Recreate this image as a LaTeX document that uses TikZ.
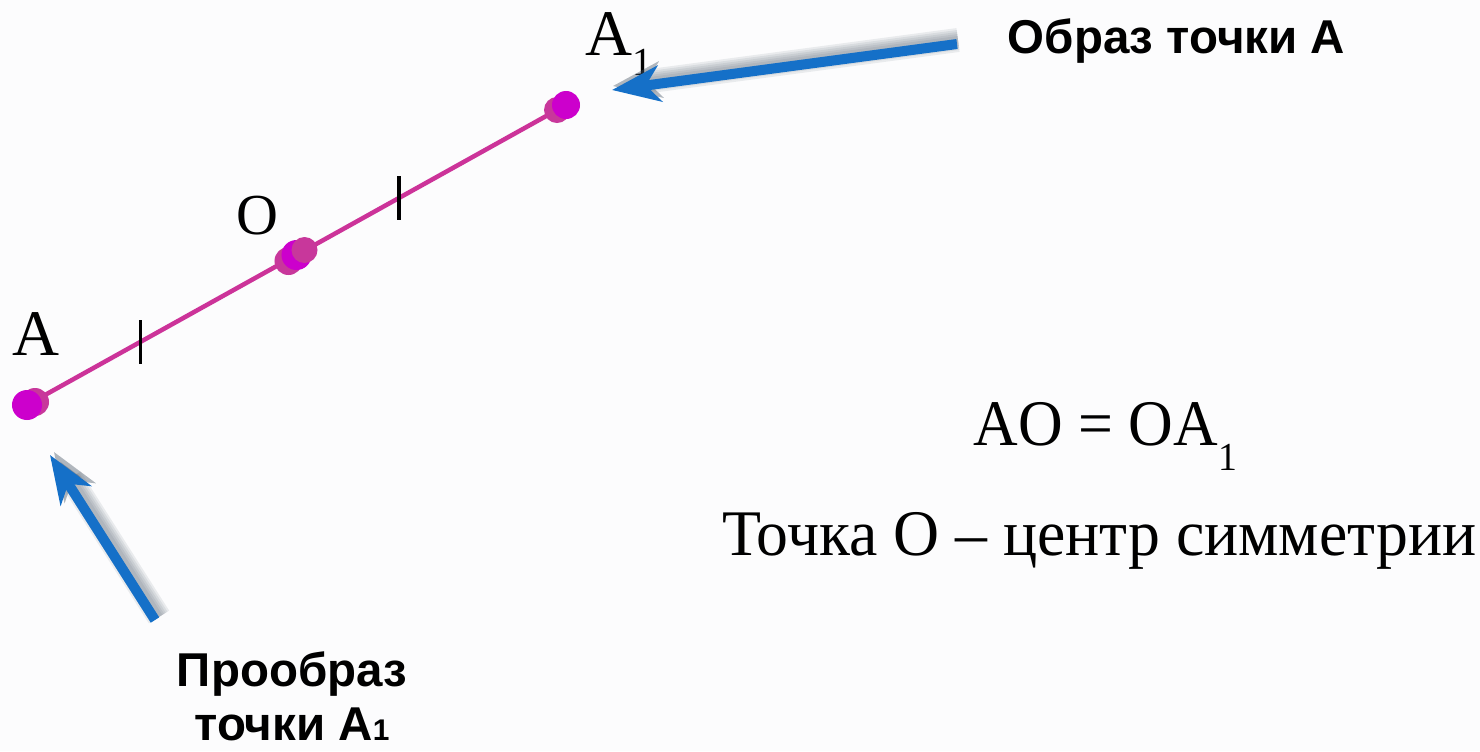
\documentclass[tikz,border=0pt]{standalone}
\usepackage{fontspec}
\setmainfont{Liberation Serif}
\newfontfamily\calloutfont{Liberation Sans}
\usetikzlibrary{arrows.meta, calc}
\definecolor{symmagenta}{HTML}{CC00CC}
\definecolor{sympink}{HTML}{C8379B}
\definecolor{symline}{HTML}{CC3399}
\definecolor{symblue}{HTML}{1570C8}
\definecolor{symshade}{HTML}{4A5868}
\definecolor{sympaper}{HTML}{FCFCFD}

\begin{document}
\begin{tikzpicture}[
    x=0.01cm,
    y=-0.01cm,
    segment/.style={draw=symline, line width=0.45mm},
    tickmark/.style={draw=black, line width=0.32mm},
    dotmain/.style={fill=symmagenta},
    dotback/.style={fill=sympink},
    pointlabel/.style={inner sep=0pt, font=\fontsize{18.5}{22}\selectfont},
    callout/.style={inner sep=0pt, font=\calloutfont\bfseries\fontsize{13.5}{15.1}\selectfont},
    pointer/.style={draw=symblue, line width=1mm, -{Stealth[length=4.8mm, width=3.6mm, inset=1.4mm]}},
    pointershade/.style={pointer, draw=symshade, opacity=0.1, line width=#1}
  ]
  \fill[sympaper] (0,0) rectangle (1480,751);
  \useasboundingbox (0,0) rectangle (1480,751);

  % segment AA1 with its centre O
  \coordinate (A) at (27,405);
  \coordinate (A1) at (566,105);
  \coordinate (O) at ($(A)!0.5!(A1)$);
  \draw[segment] (A) -- (A1);
  \foreach \t in {0.21,0.69}
    \draw[tickmark] ($(A)!\t!(A1)$) ++(0,-22) -- ++(0,44);

  \fill[dotback] ($(A)+(8,-3)$) circle (1.4mm);
  \fill[dotmain] (A) circle (1.5mm);
  \fill[dotback] ($(O)+(-8,6)$) circle (1.4mm);
  \fill[dotmain] (O) circle (1.5mm);
  \fill[dotback] ($(O)+(8,-5)$) circle (1.3mm);
  \fill[dotback] ($(A1)+(-9,5)$) circle (1.3mm);
  \fill[dotmain] (A1) circle (1.4mm);

  \node[pointlabel, anchor=base] (labA) at (36,355) {A};
  \node[pointlabel, anchor=base, font=\fontsize{16.5}{20}\selectfont] (labO) at (257,234) {O};
  \node[pointlabel, anchor=base west] (labA1) at (585,55)
    {A\raisebox{-0.2cm}{\fontsize{11.3}{13}\selectfont 1}};

  \node[pointlabel, anchor=base west] (equal) at (973,445)
    {\scalebox{0.95}[1]{AO = OA\raisebox{-0.25cm}{\fontsize{11.3}{13}\selectfont 1}}};
  \node[pointlabel, anchor=base west] (centre) at (722,555)
    {\scalebox{0.98}[1]{Точка O – центр симметрии}};

  % callouts
  \node[callout, anchor=base west] (image) at (1007,53) {Образ точки А};
  \node[callout, anchor=base, align=center] (preimage) at (292,740)
    {Прообраз\\точки А{\fontsize{8.5}{8.5}\selectfont 1}};

  \coordinate (imgTail) at (957,44);
  \coordinate (imgTip) at (612,90);
  \coordinate (preTail) at (155,620);
  \coordinate (preTip) at (50,455);
  \foreach \w in {0.8mm,1.2mm,1.6mm,2mm,2.4mm} {
    \draw[pointershade=\w] ($(imgTail)+(1,-4)$) -- ($(imgTip)+(1,-4)$);
    \draw[pointershade=\w] ($(preTail)+(4,-3)$) -- ($(preTip)+(4,-3)$);
  }
  \draw[pointer] (imgTail) -- (imgTip);
  \draw[pointer] (preTail) -- (preTip);
\end{tikzpicture}
\end{document}
